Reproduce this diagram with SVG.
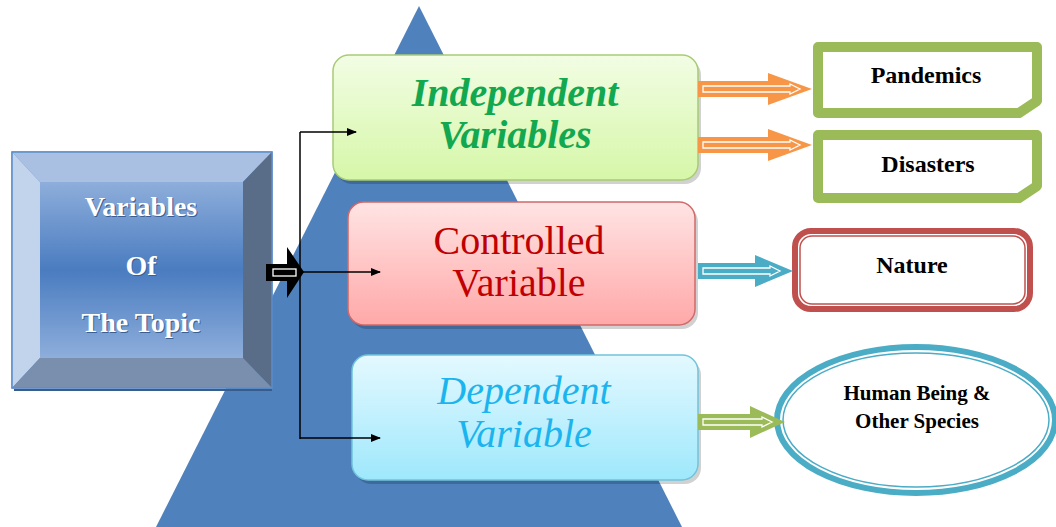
<svg xmlns="http://www.w3.org/2000/svg" width="1056" height="527" viewBox="0 0 1056 527">
<defs>
<linearGradient id="gInner" x1="0" y1="0" x2="0" y2="1">
<stop offset="0" stop-color="#8eaedb"/><stop offset="0.5" stop-color="#4a7cc0"/><stop offset="1" stop-color="#8eaedb"/>
</linearGradient>
<linearGradient id="gGreen" x1="0" y1="0" x2="0" y2="1">
<stop offset="0" stop-color="#f2fde4"/><stop offset="1" stop-color="#d6f7a8"/>
</linearGradient>
<linearGradient id="gRed" x1="0" y1="0" x2="0" y2="1">
<stop offset="0" stop-color="#ffe4e4"/><stop offset="1" stop-color="#ffa8a8"/>
</linearGradient>
<linearGradient id="gBlue" x1="0" y1="0" x2="0" y2="1">
<stop offset="0" stop-color="#e4f9ff"/><stop offset="1" stop-color="#9ee8fc"/>
</linearGradient>
<marker id="ah" viewBox="0 0 10 10" refX="9" refY="5" markerWidth="10" markerHeight="10" markerUnits="userSpaceOnUse" orient="auto">
<path d="M0,1 L10,5 L0,9 Z" fill="#000"/>
</marker>
</defs>
<rect width="1056" height="527" fill="#fff"/>

<polygon id="pyramid" points="419,6 156,527 682,527" fill="#4f81bd"/>

<g id="topic">
<rect x="12" y="152" width="260" height="236" fill="#4f81bd" stroke="#4f81bd"/>
<polygon points="12,152 272,152 243,182 40,182" fill="#a9c0e2"/>
<polygon points="12,152 40,182 40,358 12,388" fill="#c2d3ec"/>
<polygon points="272,152 272,388 243,358 243,182" fill="#5a6d88"/>
<polygon points="12,388 272,388 243,358 40,358" fill="#7a8fae"/>
<rect x="40" y="182" width="203" height="176" fill="url(#gInner)"/>
<rect x="12" y="152" width="260" height="236" fill="none" stroke="#5b8ccc" stroke-width="1.5"/>
<line x1="14" y1="390" x2="272" y2="390" stroke="#385d8a" stroke-width="2"/>
<text x="142" y="217" text-anchor="middle" font-weight="bold" font-size="28" fill="#3a5f90" font-family="Liberation Serif">Variables</text>
<text x="142" y="276" text-anchor="middle" font-weight="bold" font-size="28" fill="#3a5f90" font-family="Liberation Serif">Of</text>
<text x="142" y="333" text-anchor="middle" font-weight="bold" font-size="28" fill="#3a5f90" font-family="Liberation Serif">The Topic</text>
<text x="141" y="216" text-anchor="middle" font-weight="bold" font-size="28" fill="#fff" font-family="Liberation Serif">Variables</text>
<text x="141" y="275" text-anchor="middle" font-weight="bold" font-size="28" fill="#fff" font-family="Liberation Serif">Of</text>
<text x="141" y="332" text-anchor="middle" font-weight="bold" font-size="28" fill="#fff" font-family="Liberation Serif">The Topic</text>
</g>

<g id="independent">
<rect x="336" y="59" width="365" height="125" rx="16" fill="#000" fill-opacity="0.18"/>
<rect x="333" y="55" width="365" height="125" rx="16" fill="url(#gGreen)" stroke="#a8cc74" stroke-width="1.5"/>
<text x="515" y="106" text-anchor="middle" font-weight="bold" font-style="italic" font-size="40" fill="#12a850" font-family="Liberation Serif">Independent</text>
<text x="515" y="148" text-anchor="middle" font-weight="bold" font-style="italic" font-size="40" fill="#12a850" font-family="Liberation Serif">Variables</text>
</g>

<g id="controlled">
<rect x="351" y="206" width="347" height="123" rx="16" fill="#000" fill-opacity="0.18"/>
<rect x="348" y="202" width="347" height="123" rx="16" fill="url(#gRed)" stroke="#d06a6a" stroke-width="1.5"/>
<text x="519" y="254" text-anchor="middle" font-size="40" fill="#c00000" font-family="Liberation Serif">Controlled</text>
<text x="519" y="296" text-anchor="middle" font-size="40" fill="#c00000" font-family="Liberation Serif">Variable</text>
</g>

<g id="dependent">
<rect x="355" y="359" width="346" height="125" rx="16" fill="#000" fill-opacity="0.18"/>
<rect x="352" y="355" width="346" height="125" rx="16" fill="url(#gBlue)" stroke="#70c4dc" stroke-width="1.5"/>
<text x="524" y="404" text-anchor="middle" font-style="italic" font-size="40" fill="#1cb4ee" font-family="Liberation Serif">Dependent</text>
<text x="524" y="447" text-anchor="middle" font-style="italic" font-size="40" fill="#1cb4ee" font-family="Liberation Serif">Variable</text>
</g>

<g id="pandemics">
<path d="M818,47 H1037 V101 L1019,113 H818 Z" fill="#fff" stroke="#9bbb59" stroke-width="10" stroke-linejoin="round"/>
<text x="926" y="83" text-anchor="middle" font-weight="bold" font-size="24" fill="#000" font-family="Liberation Serif">Pandemics</text>
</g>

<g id="disasters">
<path d="M818,135 H1037 V186 L1019,198 H818 Z" fill="#fff" stroke="#9bbb59" stroke-width="10" stroke-linejoin="round"/>
<text x="928" y="172" text-anchor="middle" font-weight="bold" font-size="24" fill="#000" font-family="Liberation Serif">Disasters</text>
</g>

<g id="nature">
<rect x="795" y="231" width="235" height="78" rx="16" fill="#fff" stroke="#c0504d" stroke-width="6"/>
<rect x="800" y="236" width="225" height="68" rx="12" fill="none" stroke="#c0504d" stroke-width="1.5"/>
<text x="912" y="273" text-anchor="middle" font-weight="bold" font-size="24" fill="#000" font-family="Liberation Serif">Nature</text>
</g>

<g id="species">
<ellipse cx="916" cy="420" rx="139" ry="73" fill="#fff" stroke="#4bacc6" stroke-width="6"/>
<ellipse cx="916" cy="420" rx="133" ry="67" fill="none" stroke="#4bacc6" stroke-width="1.5"/>
<text x="917" y="400" text-anchor="middle" font-weight="bold" font-size="21" fill="#000" font-family="Liberation Serif">Human Being &amp;</text>
<text x="917" y="428" text-anchor="middle" font-weight="bold" font-size="21" fill="#000" font-family="Liberation Serif">Other Species</text>
</g>

<g id="connectors" stroke-width="1.5">
<path d="M266,264 H287 V247 L304,272 L287,298 V281 H266 Z" fill="#000"/>
<rect x="273" y="269" width="23" height="7" fill="none" stroke="#fff" stroke-width="1.3"/>
<line x1="300" y1="132" x2="300" y2="439" stroke="#000"/>
<line x1="300" y1="132" x2="356" y2="132" stroke="#000" marker-end="url(#ah)"/>
<line x1="300" y1="272" x2="380" y2="272" stroke="#000" marker-end="url(#ah)"/>
<line x1="300" y1="438" x2="380" y2="438" stroke="#000" marker-end="url(#ah)"/>
<g id="arrow-pandemics">
<path d="M698,81 H768 V73 L812,89 L768,105 V97 H698 Z" fill="#f79646"/>
<path d="M703,86 H790 V84 L800,89 L790,94 V92 H703 Z" fill="none" stroke="#fff" stroke-width="1.3"/>
</g>
<g id="arrow-disasters">
<path d="M698,137 H768 V129 L812,145 L768,161 V153 H698 Z" fill="#f79646"/>
<path d="M703,142 H790 V140 L800,145 L790,150 V148 H703 Z" fill="none" stroke="#fff" stroke-width="1.3"/>
</g>
<g id="arrow-nature">
<path d="M698,263 H755 V255 L793,271 L755,287 V279 H698 Z" fill="#4bacc6"/>
<path d="M703,268 H770 V266 L780,271 L770,276 V274 H703 Z" fill="none" stroke="#fff" stroke-width="1.3"/>
</g>
<g id="arrow-species">
<path d="M698,414 H750 V406 L785,422 L750,438 V430 H698 Z" fill="#9bbb59"/>
<path d="M703,419 H762 V417 L772,422 L762,427 V425 H703 Z" fill="none" stroke="#fff" stroke-width="1.3"/>
</g>
</g>
</svg>
